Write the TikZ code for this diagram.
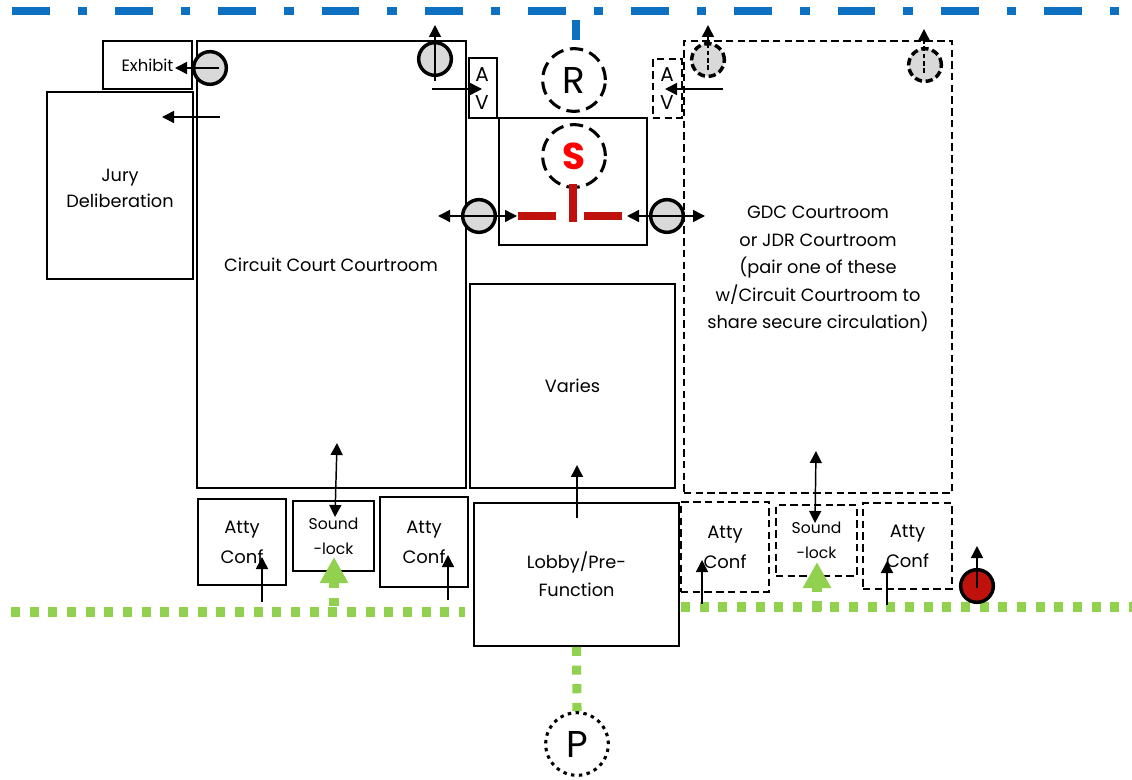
\documentclass[tikz,border=0pt]{standalone}
\usepackage{fontspec}
\setmainfont{Poppins}
\usetikzlibrary{arrows.meta}
\definecolor{bluel}{HTML}{0E70C1}
\definecolor{greenl}{HTML}{92D050}
\definecolor{redl}{HTML}{C0120C}
\definecolor{grayd}{HTML}{D9D9D9}
\tikzset{
  x=0.75pt,y=-0.75pt,
  room/.style={draw=black,line width=1.3pt,align=center,inner sep=0pt,font=\fontsize{13.3pt}{20pt}\selectfont},
  droom/.style={room,dash pattern=on 5.6pt off 3.2pt},
  attyf/.style={font=\fontsize{13.5pt}{22.5pt}\selectfont},
  soundf/.style={font=\fontsize{11.7pt}{19pt}\selectfont},
  lab/.style={align=center,inner sep=0pt},
  avf/.style={lab,font=\fontsize{15pt}{21pt}\selectfont},
  door/.style={circle,draw=black,fill=grayd,line width=2.6pt,minimum size=24.5pt,inner sep=0pt},
  ddoor/.style={door,dash pattern=on 5.5pt off 2.8pt},
  rdoor/.style={door,fill=redl},
  bigc/.style={circle,draw=black,line width=2.3pt,minimum size=47pt,inner sep=0pt,font=\fontsize{28pt}{30pt}\selectfont,dash pattern=on 10pt off 5pt},
  dotc/.style={bigc,dash pattern=on 2.6pt off 3.3pt},
  tip/.style={-{Triangle[length=9pt,width=9pt]},line width=1.1pt},
  dtip/.style={{Triangle[length=9pt,width=9pt]}-{Triangle[length=9pt,width=9pt]},line width=1.1pt},
  tipdash/.style={tip,dash pattern=on 3.5pt off 2pt},
  bline/.style={bluel,line width=6.2pt,dash pattern=on 28.4pt off 21pt on 7pt off 21pt},
  gline/.style={greenl,line width=6.8pt,dash pattern=on 6.8pt off 7.2pt},
  redbar/.style={redl,line width=6.5pt},
  gstub/.style={greenl,line width=6.8pt,-{Triangle[length=19.5pt,width=20pt]}},
}
% style, name, x1, y1, x2, y2, text
\newcommand\roomat[7]{%
  \pgfmathsetmacro\rw{(#5-#3)*0.75}\pgfmathsetmacro\rh{(#6-#4)*0.75}%
  \node[#1,minimum width=\rw pt,minimum height=\rh pt] (#2) at ({(#3+#5)/2},{(#4+#6)/2}) {#7};}
% style, name, from, to
\newcommand\arrowat[4]{%
  \coordinate (#2a) at (#3); \coordinate (#2b) at (#4);
  \draw[#1] (#2a) -- (#2b);}
\begin{document}
\begin{tikzpicture}
\useasboundingbox[fill=white] (0,0) rectangle (1132,780);

% lines
\coordinate (bl) at (12,11); \coordinate (br) at (1132,11);
\draw[bline] (bl) -- (br);
\coordinate (bs1) at (576,20); \coordinate (bs2) at (576,40);
\draw[bluel,line width=6.7pt] (bs1) -- (bs2);
\coordinate (gl1) at (11,612); \coordinate (gl2) at (465,612);
\draw[gline] (gl1) -- (gl2);
\coordinate (gr1) at (681,607); \coordinate (gr2) at (1132,607);
\draw[gline] (gr1) -- (gr2);

% rooms
\roomat{room,font=\fontsize{12.3pt}{14pt}\selectfont}{exhibit}{103}{41}{192}{89}{Exhibit}
\roomat{room}{jury}{47}{92}{193}{279}{}
\node[lab,font=\fontsize{13.3pt}{19.5pt}\selectfont] (jurytext) at (120,188) {Jury\\Deliberation};
\roomat{room}{circuit}{197}{41}{466}{488}{}
\node[lab,font=\fontsize{13.3pt}{19pt}\selectfont] (circuittext) at (331,265) {Circuit Court Courtroom};
\roomat{room}{avl}{469}{58}{497}{118}{}
\node[avf] (avltext) at (482,89) {A\\V};
\roomat{room}{sec}{499}{118}{647}{245}{}
\roomat{droom}{avr}{653}{59}{682}{118}{}
\node[avf] (avrtext) at (667,89) {A\\V};
\roomat{droom}{gdc}{684}{41}{952}{493}{}
\node[lab,font=\fontsize{13.3pt}{20.6pt}\selectfont] (gdctext) at (818,269) {GDC Courtroom\\or JDR Courtroom\\(pair one of these\\w/Circuit Courtroom to\\share secure circulation)};
\roomat{room}{varies}{470}{284}{675}{488}{Varies}
\roomat{room,font=\fontsize{13.3pt}{21pt}\selectfont}{lobby}{474}{503}{679}{646}{Lobby/Pre-\\Function}
\roomat{room,attyf}{atty1}{198}{499}{286}{585}{Atty\\Conf}
\roomat{room,soundf}{sound1}{293}{501}{374}{571}{Sound\\-lock}
\roomat{room,attyf}{atty2}{380}{497}{468}{587}{Atty\\Conf}
\roomat{droom,attyf}{atty3}{681}{502}{769}{592}{Atty\\Conf}
\roomat{droom,soundf}{sound2}{776}{505}{857}{576}{Sound\\-lock}
\roomat{droom,attyf}{atty4}{863}{503}{952}{589}{Atty\\Conf}

% circles
\node[bigc] (R) at (574,80) {R};
\node[bigc] (S) at (574,156) {\textcolor{red}{\bfseries S}};
\node[dotc] (P) at (577,744) {P};
\node[door] (d1) at (210,68) {};
\node[door] (d2) at (435,59) {};
\node[door] (d3) at (479,216) {};
\node[door] (d4) at (667,216) {};
\node[ddoor] (d5) at (708,60) {};
\node[ddoor] (d6) at (925,65) {};
\node[rdoor] (d7) at (977,586) {};

% security bars
\coordinate (ra1) at (518,216); \coordinate (ra2) at (556,216);
\coordinate (rb1) at (584,216); \coordinate (rb2) at (622,216);
\coordinate (rc1) at (573,184); \coordinate (rc2) at (573,222);
\draw[redbar] (ra1) -- (ra2);
\draw[redbar] (rb1) -- (rb2);
\draw[redbar] (rc1) -- (rc2);

% green connectors
\draw[gline] (lobby.south) -- (P.north);
\arrowat{gstub,dash pattern=on 6pt off 7.5pt}{gs1}{334,606}{334,557}
\arrowat{gstub,dash pattern=on 7.5pt off 6.8pt}{gs2}{817,611}{817,562}

% arrows
\arrowat{tip}{a1}{219,68}{175,68}
\arrowat{tip}{a2}{435,81}{435,25}
\arrowat{tip}{a3}{220,117}{162,117}
\arrowat{tip}{a4}{432,89}{482,89}
\arrowat{tip}{a5}{723,89}{665,89}
\arrowat{dtip}{a6}{438,216}{517,216}
\arrowat{dtip}{a7}{627,216}{705,216}
\arrowat{tipdash}{a8}{708,70}{708,25}
\arrowat{tipdash}{a9}{924,73}{924,29}
\arrowat{tip}{a10}{262,602}{262,557}
\arrowat{tip}{a11}{448,600}{448,555}
\arrowat{dtip}{a12}{337,443}{335,517}
\arrowat{dtip}{a13}{816,451}{815,523}
\arrowat{tip}{a14}{702,604}{702,560}
\arrowat{tip}{a15}{887,605}{887,561}
\arrowat{tip}{a16}{977,588}{977,546}
\arrowat{tip}{a17}{577,518}{577,465}
\end{tikzpicture}
\end{document}
